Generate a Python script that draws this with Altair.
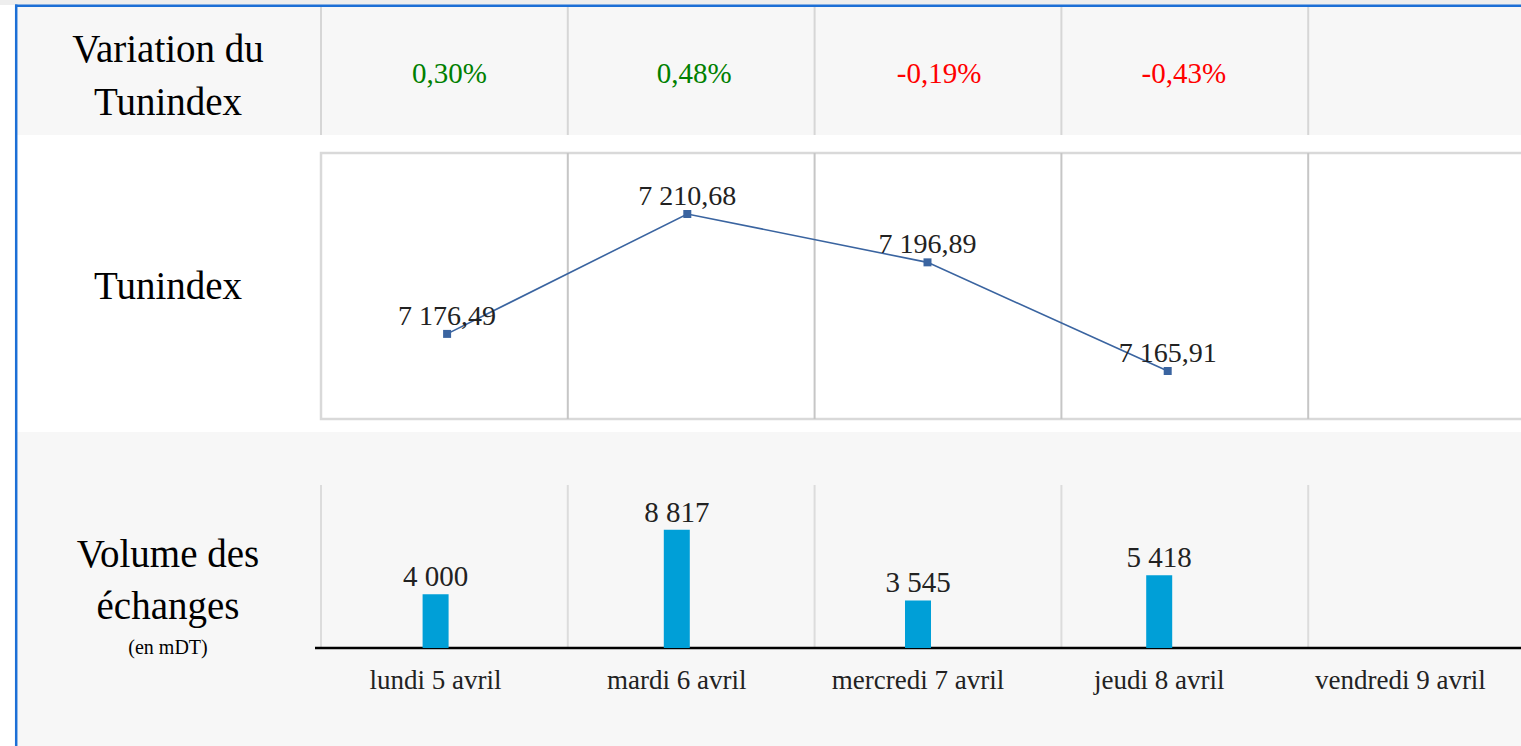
import altair as alt
import pandas as pd

# ---------------- data ----------------
days = ["lundi 5 avril", "mardi 6 avril", "mercredi 7 avril", "jeudi 8 avril", "vendredi 9 avril"]
variation = [0.30, 0.48, -0.19, -0.43, None]
tunindex = [7176.49, 7210.68, 7196.89, 7165.91, None]
volume = [4000, 8817, 3545, 5418, None]


def fr_num(v, dec):
    s = f"{v:,.{dec}f}"
    return s.replace(",", " ").replace(".", ",")


df = pd.DataFrame({"day": days, "idx": list(range(len(days))),
                   "var": variation, "tun": tunindex, "vol": volume})
df_var = df.dropna(subset=["var"]).copy()
df_var["lab"] = [fr_num(v, 2) + "%" for v in df_var["var"]]
df_tun = df.dropna(subset=["tun"]).copy()
df_tun["lab"] = [fr_num(v, 2) for v in df_tun["tun"]]
df_vol = df.dropna(subset=["vol"]).copy()
df_vol["lab"] = [fr_num(v, 0) for v in df_vol["vol"]]

one = pd.DataFrame({"k": [0]})
FONT = "Liberation Serif"
GRAY_BG = "#f7f7f7"

# ---------------- background & frame ----------------
bg = alt.Chart(one)
bg_top = bg.mark_rect(color="#eeeeee").encode(x=alt.value(0), x2=alt.value(1521), y=alt.value(0), y2=alt.value(5))
bg_r1 = bg.mark_rect(color=GRAY_BG).encode(x=alt.value(17), x2=alt.value(1521), y=alt.value(7), y2=alt.value(135))
bg_r3 = bg.mark_rect(color=GRAY_BG).encode(x=alt.value(17), x2=alt.value(1521), y=alt.value(432), y2=alt.value(746))
box2 = bg.mark_rect(fill="white", stroke="#d9d9d9", strokeWidth=2.5).encode(
    x=alt.value(321), x2=alt.value(1540), y=alt.value(153), y2=alt.value(419))
border_l = bg.mark_rule(color="#1c6fd6", strokeWidth=2.5).encode(x=alt.value(16.2), y=alt.value(4.5), y2=alt.value(746))
border_t = bg.mark_rule(color="#1c6fd6", strokeWidth=2.5).encode(y=alt.value(5.7), x=alt.value(15), x2=alt.value(1521))
base = bg.mark_rule(color="black", strokeWidth=2.5).encode(y=alt.value(648), x=alt.value(315), x2=alt.value(1521))

gx = alt.Scale(domain=[0, 5], range=[321, 1555])
grid1 = alt.Chart(df).mark_rule(color="#d6d6d6", strokeWidth=2).encode(
    x=alt.X("idx:Q", scale=gx, axis=None), y=alt.value(7), y2=alt.value(135))
grid2 = alt.Chart(df[df["idx"] > 0]).mark_rule(color="#c6c6c6", strokeWidth=2).encode(
    x=alt.X("idx:Q", scale=gx, axis=None), y=alt.value(153), y2=alt.value(419))
grid3 = alt.Chart(df).mark_rule(color="#dcdcdc", strokeWidth=2).encode(
    x=alt.X("idx:Q", scale=gx, axis=None), y=alt.value(485), y2=alt.value(648))

# ---------------- row 1: variation ----------------
var_text = alt.Chart(df_var).mark_text(font=FONT, fontSize=29, baseline="alphabetic").encode(
    x=alt.X("day:N", sort=days, scale=alt.Scale(domain=days, range=[327, 1551], paddingInner=0, paddingOuter=0), axis=None),
    y=alt.value(83),
    text="lab:N",
    color=alt.condition(alt.datum["var"] > 0, alt.value("#008000"), alt.value("#ff0000")),
)

# ---------------- row 2: Tunindex line ----------------
lx = alt.X("day:N", sort=days, scale=alt.Scale(domain=days, range=[327, 1528], paddingInner=0, paddingOuter=0), axis=None)
ly = alt.Y("tun:Q", scale=alt.Scale(domain=[7150, 7220], range=[426.8, 181.3], zero=False, nice=False), axis=None)
line = alt.Chart(df_tun).mark_line(color="#3a64a0", strokeWidth=1.6).encode(x=lx, y=ly)
pts = alt.Chart(df_tun).mark_point(shape="square", filled=True, size=64, color="#3a64a0", opacity=1).encode(x=lx, y=ly)
tun_lab = alt.Chart(df_tun).mark_text(font=FONT, fontSize=28, baseline="alphabetic", dy=-9, color="#222222").encode(
    x=lx, y=ly, text="lab:N")

# ---------------- row 3: volume bars ----------------
bx = alt.X("day:N", sort=days, scale=alt.Scale(domain=days, range=[315, 1521], paddingInner=0, paddingOuter=0), axis=None)
by = alt.Y("vol:Q", scale=alt.Scale(domain=[0, 12000], range=[648, 487], nice=False), axis=None)
bars = alt.Chart(df_vol).mark_bar(color="#009fd7", size=26).encode(x=bx, y=by)
vol_lab = alt.Chart(df_vol).mark_text(font=FONT, fontSize=29, baseline="alphabetic", dy=-8, color="#222222").encode(
    x=bx, y=by, text="lab:N")
cat_lab = alt.Chart(df).mark_text(font=FONT, fontSize=27, baseline="alphabetic", color="#222222").encode(
    x=bx, y=alt.value(689), text="day:N")

# ---------------- row titles ----------------
t1 = bg.mark_text(font=FONT, fontSize=39, baseline="alphabetic", align="center", lineHeight=53, color="black").encode(
    x=alt.value(168), y=alt.value(62), text=alt.value(["Variation du", "Tunindex"]))
t2 = bg.mark_text(font=FONT, fontSize=39, baseline="alphabetic", align="center", color="black").encode(
    x=alt.value(168), y=alt.value(299), text=alt.value("Tunindex"))
t3 = bg.mark_text(font=FONT, fontSize=39, baseline="alphabetic", align="center", lineHeight=52, color="black").encode(
    x=alt.value(168), y=alt.value(567), text=alt.value(["Volume des", "échanges"]))
t4 = bg.mark_text(font=FONT, fontSize=20, baseline="alphabetic", align="center", color="black").encode(
    x=alt.value(168), y=alt.value(654), text=alt.value("(en mDT)"))

chart = alt.layer(
    bg_top, bg_r1, bg_r3, box2, grid1, grid2, grid3, base, border_l, border_t,
    var_text, line, pts, tun_lab, bars, vol_lab, cat_lab, t1, t2, t3, t4,
).resolve_scale(x="independent", y="independent", color="independent").properties(
    width=1521, height=746, autosize=alt.AutoSizeParams(type="none"), padding=0, background="white"
).configure_view(stroke=None)

chart.save("out.html", embed_options={"renderer": "svg", "actions": False})
